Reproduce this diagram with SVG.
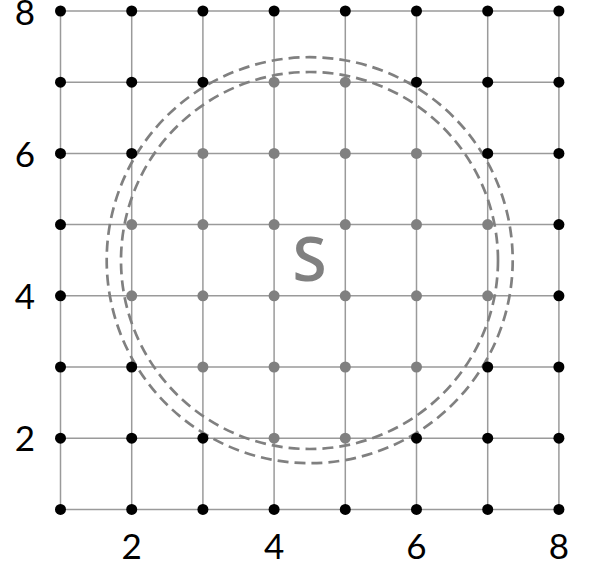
<svg xmlns="http://www.w3.org/2000/svg" width="589" height="569" viewBox="0 0 589 569">
<style>
.grid line{stroke:#9a9a9a;stroke-width:1.5}
.ring{fill:none;stroke:#808080;stroke-width:2.7;stroke-dasharray:11 6}
.b{fill:#000}
.g{fill:#808080}
.ax{font-family:Lato,"DejaVu Sans",sans-serif;font-size:35px;fill:#000;text-anchor:middle}
.s{font-family:"Open Sans","DejaVu Sans",sans-serif;font-size:62px;font-weight:600;fill:#808080;text-anchor:middle}
</style>
<rect width="589" height="569" fill="#fff"/>
<g id="connectors" class="grid">
<line x1="60.5" y1="11" x2="558.9" y2="11"/>
<line x1="60.5" y1="82.2" x2="558.9" y2="82.2"/>
<line x1="60.5" y1="153.4" x2="558.9" y2="153.4"/>
<line x1="60.5" y1="224.6" x2="558.9" y2="224.6"/>
<line x1="60.5" y1="295.8" x2="558.9" y2="295.8"/>
<line x1="60.5" y1="367" x2="558.9" y2="367"/>
<line x1="60.5" y1="438.2" x2="558.9" y2="438.2"/>
<line x1="60.5" y1="509.4" x2="558.9" y2="509.4"/>
<line x1="60.5" y1="11" x2="60.5" y2="509.4"/>
<line x1="131.7" y1="11" x2="131.7" y2="509.4"/>
<line x1="202.9" y1="11" x2="202.9" y2="509.4"/>
<line x1="274.1" y1="11" x2="274.1" y2="509.4"/>
<line x1="345.3" y1="11" x2="345.3" y2="509.4"/>
<line x1="416.5" y1="11" x2="416.5" y2="509.4"/>
<line x1="487.7" y1="11" x2="487.7" y2="509.4"/>
<line x1="558.9" y1="11" x2="558.9" y2="509.4"/>
</g>
<g id="rings">
<circle class="ring" cx="309.7" cy="260.2" r="203"/>
<circle class="ring" cx="309.5" cy="260.5" r="188.5"/>
</g>
<g id="points">
<g id="p8"><circle class="b" cx="60.5" cy="11" r="5.5"/><circle class="b" cx="131.7" cy="11" r="5.5"/><circle class="b" cx="202.9" cy="11" r="5.5"/><circle class="b" cx="274.1" cy="11" r="5.5"/><circle class="b" cx="345.3" cy="11" r="5.5"/><circle class="b" cx="416.5" cy="11" r="5.5"/><circle class="b" cx="487.7" cy="11" r="5.5"/><circle class="b" cx="558.9" cy="11" r="5.5"/></g>
<g id="p7"><circle class="b" cx="60.5" cy="82.2" r="5.5"/><circle class="b" cx="131.7" cy="82.2" r="5.5"/><circle class="b" cx="202.9" cy="82.2" r="5.5"/><circle class="g" cx="274.1" cy="82.2" r="5.5"/><circle class="g" cx="345.3" cy="82.2" r="5.5"/><circle class="b" cx="416.5" cy="82.2" r="5.5"/><circle class="b" cx="487.7" cy="82.2" r="5.5"/><circle class="b" cx="558.9" cy="82.2" r="5.5"/></g>
<g id="p6"><circle class="b" cx="60.5" cy="153.4" r="5.5"/><circle class="b" cx="131.7" cy="153.4" r="5.5"/><circle class="g" cx="202.9" cy="153.4" r="5.5"/><circle class="g" cx="274.1" cy="153.4" r="5.5"/><circle class="g" cx="345.3" cy="153.4" r="5.5"/><circle class="g" cx="416.5" cy="153.4" r="5.5"/><circle class="b" cx="487.7" cy="153.4" r="5.5"/><circle class="b" cx="558.9" cy="153.4" r="5.5"/></g>
<g id="p5"><circle class="b" cx="60.5" cy="224.6" r="5.5"/><circle class="g" cx="131.7" cy="224.6" r="5.5"/><circle class="g" cx="202.9" cy="224.6" r="5.5"/><circle class="g" cx="274.1" cy="224.6" r="5.5"/><circle class="g" cx="345.3" cy="224.6" r="5.5"/><circle class="g" cx="416.5" cy="224.6" r="5.5"/><circle class="g" cx="487.7" cy="224.6" r="5.5"/><circle class="b" cx="558.9" cy="224.6" r="5.5"/></g>
<g id="p4"><circle class="b" cx="60.5" cy="295.8" r="5.5"/><circle class="g" cx="131.7" cy="295.8" r="5.5"/><circle class="g" cx="202.9" cy="295.8" r="5.5"/><circle class="g" cx="274.1" cy="295.8" r="5.5"/><circle class="g" cx="345.3" cy="295.8" r="5.5"/><circle class="g" cx="416.5" cy="295.8" r="5.5"/><circle class="g" cx="487.7" cy="295.8" r="5.5"/><circle class="b" cx="558.9" cy="295.8" r="5.5"/></g>
<g id="p3"><circle class="b" cx="60.5" cy="367" r="5.5"/><circle class="b" cx="131.7" cy="367" r="5.5"/><circle class="g" cx="202.9" cy="367" r="5.5"/><circle class="g" cx="274.1" cy="367" r="5.5"/><circle class="g" cx="345.3" cy="367" r="5.5"/><circle class="g" cx="416.5" cy="367" r="5.5"/><circle class="b" cx="487.7" cy="367" r="5.5"/><circle class="b" cx="558.9" cy="367" r="5.5"/></g>
<g id="p2"><circle class="b" cx="60.5" cy="438.2" r="5.5"/><circle class="b" cx="131.7" cy="438.2" r="5.5"/><circle class="b" cx="202.9" cy="438.2" r="5.5"/><circle class="g" cx="274.1" cy="438.2" r="5.5"/><circle class="g" cx="345.3" cy="438.2" r="5.5"/><circle class="b" cx="416.5" cy="438.2" r="5.5"/><circle class="b" cx="487.7" cy="438.2" r="5.5"/><circle class="b" cx="558.9" cy="438.2" r="5.5"/></g>
<g id="p1"><circle class="b" cx="60.5" cy="509.4" r="5.5"/><circle class="b" cx="131.7" cy="509.4" r="5.5"/><circle class="b" cx="202.9" cy="509.4" r="5.5"/><circle class="b" cx="274.1" cy="509.4" r="5.5"/><circle class="b" cx="345.3" cy="509.4" r="5.5"/><circle class="b" cx="416.5" cy="509.4" r="5.5"/><circle class="b" cx="487.7" cy="509.4" r="5.5"/><circle class="b" cx="558.9" cy="509.4" r="5.5"/></g>
</g>
<g id="label-S"><text class="s" x="309.5" y="280.5">S</text></g>
<g id="axis-y">
<text class="ax" x="25" y="24.5">8</text>
<text class="ax" x="25" y="166.5">6</text>
<text class="ax" x="25" y="308.5">4</text>
<text class="ax" x="25" y="451">2</text>
</g>
<g id="axis-x">
<text class="ax" x="131.7" y="558.5">2</text>
<text class="ax" x="274.1" y="558.5">4</text>
<text class="ax" x="416.5" y="558.5">6</text>
<text class="ax" x="558.9" y="558.5">8</text>
</g>
</svg>
